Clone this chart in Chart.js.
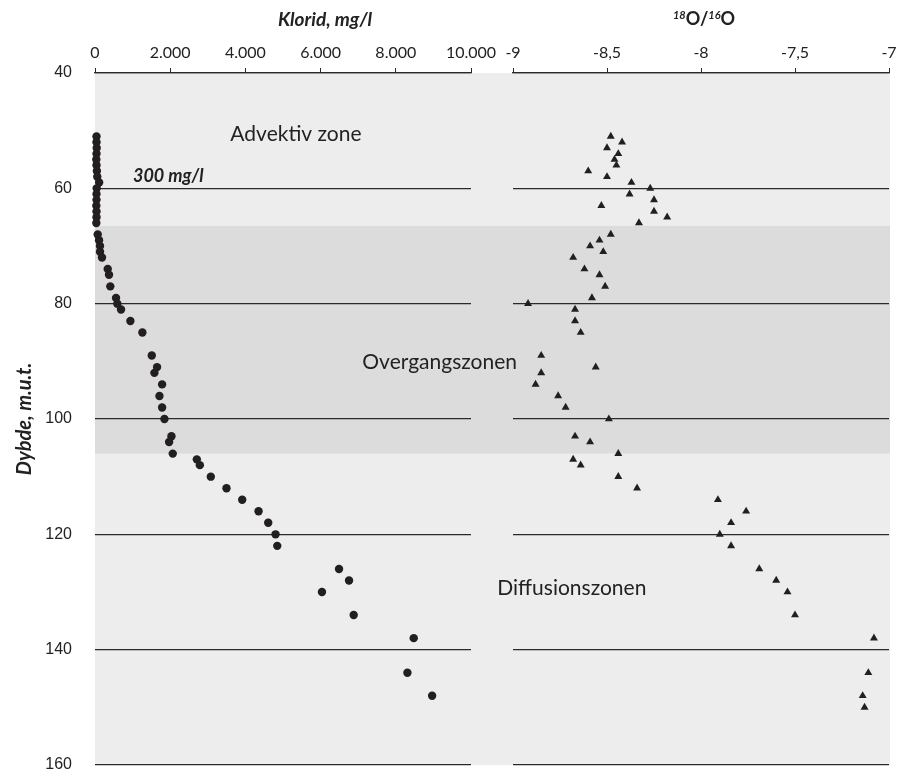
<!DOCTYPE html>
<html>
<head>
<meta charset="utf-8">
<script src="https://cdn.jsdelivr.net/npm/chart.js@4"></script>
<style>
  html, body { margin: 0; padding: 0; background: #fff; }
  #wrap { position: relative; width: 898px; height: 771px; }
  #wrap canvas { position: absolute; left: 0; top: 0; }
</style>
</head>
<body>
<div id="wrap">
  <canvas id="kloridChart" width="898" height="771"></canvas>
  <canvas id="isotopChart" width="898" height="771"></canvas>
</div>
<script>
// klorid (mg/l) per dybde
const kloridDepth = [51, 52, 53, 54, 55, 56, 57, 58, 59, 60, 61, 62, 63, 64, 65, 66,
  68, 69, 70, 71, 72, 74, 75, 77, 79, 80, 81, 83, 85, 89, 91, 92, 94, 96, 98, 100,
  103, 104, 106, 107, 108, 110, 112, 114, 116, 118, 120, 122, 126, 128, 130, 134, 138, 144, 148];
const kloridValue = [40, 40, 45, 40, 35, 40, 50, 60, 110, 45, 40, 40, 35, 40, 40, 35,
  72, 107, 133, 133, 186, 338, 373, 407, 559, 594, 692, 941, 1260, 1510, 1651, 1580, 1785, 1714, 1785, 1847,
  2033, 1971, 2068, 2708, 2788, 3080, 3497, 3915, 4350, 4607, 4802, 4847, 6490, 6756, 6036, 6880, 8477, 8309, 8966];

// 18O/16O per dybde
const isotopDepth = [51, 52, 53, 54, 55, 56, 57, 58, 59, 60, 61, 62, 63, 64, 65, 66,
  68, 69, 70, 71, 72, 74, 75, 77, 79, 80, 81, 83, 85, 89, 91, 92, 94, 96, 98, 100,
  103, 104, 106, 107, 108, 110, 112, 114, 116, 118, 120, 122, 126, 128, 130, 134, 138, 144, 148, 150];
const isotopValue = [-8.48, -8.42, -8.50, -8.44, -8.46, -8.45, -8.60, -8.50, -8.37, -8.27, -8.38, -8.25, -8.53, -8.25, -8.18, -8.33,
  -8.48, -8.54, -8.59, -8.52, -8.68, -8.62, -8.54, -8.51, -8.58, -8.92, -8.67, -8.67, -8.64, -8.85, -8.56, -8.85, -8.88, -8.76, -8.72, -8.49,
  -8.67, -8.59, -8.44, -8.68, -8.64, -8.44, -8.34, -7.91, -7.76, -7.84, -7.90, -7.84, -7.69, -7.60, -7.54, -7.50, -7.08, -7.11, -7.14, -7.13];

const depthTicks = [40, 60, 80, 100, 120, 140, 160];
const kloridTicks = [0, 2000, 4000, 6000, 8000, 10000];
const isotopTicks = [-9, -8.5, -8, -7.5, -7];
const overgangBand = [66.5, 106];

const W = 898, H = 771;
const PLOT_TOP = 73, PLOT_BOTTOM = 765;
const LEFT_L = 95, LEFT_R = 471, RIGHT_L = 513, RIGHT_R = 889;
const INK = '#231f20';

function thousands(v) {
  return String(v).replace(/\B(?=(\d{3})+(?!\d))/g, '.');
}

function toPoints(xs, ys) {
  return xs.map((d, i) => ({ x: ys[i], y: d }));
}

// labels may hang over the plot edges without shrinking the plot
function noOverhang(s) {
  s.paddingLeft = s.paddingRight = s.paddingTop = s.paddingBottom = 0;
}

function depthScale(showLabels, width) {
  return {
    type: 'linear', reverse: true, min: 40, max: 160,
    afterBuildTicks: s => { s.ticks = depthTicks.map(v => ({ value: v })); },
    afterFit: s => { s.width = width; noOverhang(s); },
    grid: { drawTicks: false, color: '#2a2a2a', lineWidth: 1.2 },
    border: { display: false },
    ticks: { display: showLabels, padding: 23, color: '#222', font: { family: 'Liberation Sans', size: 16 } }
  };
}

function topScale(min, max, tickList, fmt) {
  return {
    type: 'linear', position: 'top', min: min, max: max,
    afterBuildTicks: s => { s.ticks = tickList.map(v => ({ value: v })); },
    afterFit: s => { s.height = PLOT_TOP; noOverhang(s); },
    grid: { drawOnChartArea: false, drawTicks: true, tickLength: 5, color: '#2a2a2a', lineWidth: 1 },
    border: { display: true, color: '#2a2a2a', width: 1.2 },
    ticks: { padding: 6, color: '#222', maxRotation: 0, autoSkip: false,
      font: { family: 'Lato', size: 16 }, callback: fmt }
  };
}

const backdrop = {
  id: 'backdrop',
  beforeDraw(chart) {
    const { ctx, chartArea: a, scales: { y } } = chart;
    ctx.save();
    ctx.fillStyle = '#ededed';
    ctx.fillRect(a.left, a.top, RIGHT_R + 1 - a.left, a.bottom - a.top);
    const y1 = y.getPixelForValue(overgangBand[0]);
    const y2 = y.getPixelForValue(overgangBand[1]);
    ctx.fillStyle = '#dcdcdd';
    ctx.fillRect(a.left, y1, RIGHT_R + 1 - a.left, y2 - y1);
    ctx.restore();
  },
  afterDraw(chart) {
    const { ctx, scales: { x, y } } = chart;
    ctx.save();
    ctx.fillStyle = '#222';
    ctx.textBaseline = 'middle';
    ctx.textAlign = 'left';
    ctx.font = '21px Lato';
    ctx.fillText('Advektiv zone', x.getPixelForValue(3600), y.getPixelForValue(50.7));
    ctx.fillText('Overgangszonen', x.getPixelForValue(7110), y.getPixelForValue(90.1));
    ctx.fillText('Diffusionszonen', x.getPixelForValue(10700), y.getPixelForValue(129.3));
    ctx.font = 'italic bold 18px Lato';
    ctx.fillText('300 mg/l', x.getPixelForValue(1010), y.getPixelForValue(57.9));
    ctx.font = 'italic bold 19px Lato';
    ctx.textAlign = 'center';
    ctx.fillText('Klorid, mg/l', 325, 20);
    ctx.font = 'italic bold 20px Lato';
    ctx.translate(25, (PLOT_TOP + PLOT_BOTTOM) / 2);
    ctx.rotate(-Math.PI / 2);
    ctx.fillText('Dybde, m.u.t.', 0, 0);
    ctx.restore();
  }
};

const isoTitle = {
  id: 'isoTitle',
  afterDraw(chart) {
    const ctx = chart.ctx;
    const parts = [
      { t: '18', f: 'italic bold 11px Lato', dy: -6 },
      { t: 'O/', f: 'bold 18px Lato', dy: 0 },
      { t: '16', f: 'italic bold 11px Lato', dy: -6 },
      { t: 'O', f: 'bold 18px Lato', dy: 0 }
    ];
    ctx.save();
    ctx.fillStyle = '#222';
    ctx.textBaseline = 'alphabetic';
    ctx.textAlign = 'left';
    let total = 0;
    parts.forEach(p => { ctx.font = p.f; p.w = ctx.measureText(p.t).width; total += p.w; });
    let cx = 704 - total / 2;
    parts.forEach(p => { ctx.font = p.f; ctx.fillText(p.t, cx, 25 + p.dy); cx += p.w; });
    ctx.restore();
  }
};

new Chart(document.getElementById('kloridChart'), {
  type: 'scatter',
  data: {
    datasets: [{
      data: toPoints(kloridDepth, kloridValue),
      pointStyle: 'circle', pointRadius: 4.2, pointBackgroundColor: INK,
      pointBorderWidth: 0, clip: false
    }]
  },
  options: {
    responsive: false, animation: false, devicePixelRatio: 1,
    layout: { padding: { left: 0, right: W - LEFT_R, top: 0, bottom: H - PLOT_BOTTOM } },
    plugins: { legend: { display: false }, tooltip: { enabled: false } },
    scales: {
      x: topScale(0, 10000, kloridTicks, v => thousands(v)),
      y: depthScale(true, LEFT_L)
    }
  },
  plugins: [backdrop]
});

new Chart(document.getElementById('isotopChart'), {
  type: 'scatter',
  data: {
    datasets: [{
      data: toPoints(isotopDepth, isotopValue),
      pointStyle: 'triangle', pointRadius: 4.6, pointBackgroundColor: INK,
      pointBorderWidth: 0, clip: false
    }]
  },
  options: {
    responsive: false, animation: false, devicePixelRatio: 1,
    layout: { padding: { left: RIGHT_L, right: W - RIGHT_R, top: 0, bottom: H - PLOT_BOTTOM } },
    plugins: { legend: { display: false }, tooltip: { enabled: false } },
    scales: {
      x: topScale(-9, -7, isotopTicks, v => String(v).replace('.', ',')),
      y: depthScale(false, 0)
    }
  },
  plugins: [isoTitle]
});
</script>
</body>
</html>
